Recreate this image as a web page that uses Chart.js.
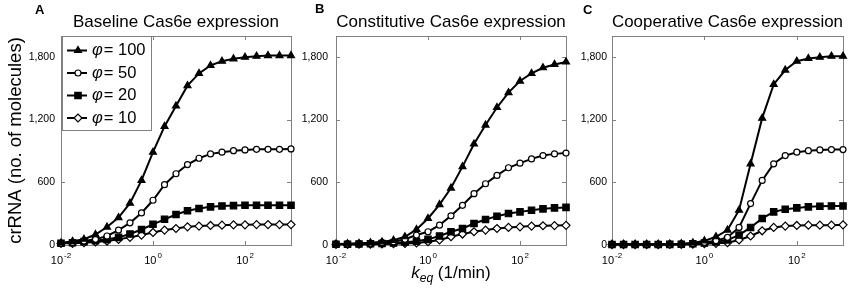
<!DOCTYPE html>
<html>
<head>
<meta charset="utf-8">
<script src="https://cdn.jsdelivr.net/npm/chart.js@4.4.1/dist/chart.umd.min.js"></script>
<style>
  body { margin: 0; background: #fff; width: 851px; height: 299px; position: relative; overflow: hidden; font-family: "Liberation Sans", Arial, sans-serif; }
  canvas { position: absolute; top: 0; }
  .letter { position: absolute; font-weight: bold; font-size: 13px; line-height: 14px; }
  #xlabel { position: absolute; left: 336px; width: 230px; top: 263px; text-align: center; font-size: 17px; line-height: 20px; }
  #xlabel sub { font-size: 12px; line-height: 0; vertical-align: -4px; font-style: italic; }
</style>
</head>
<body>
<canvas id="chartA" width="300" height="299" style="left:0px"></canvas>
<canvas id="chartB" width="290" height="299" style="left:283px"></canvas>
<canvas id="chartC" width="289" height="299" style="left:562px"></canvas>
<div class="letter" style="left:35px;top:3px">A</div>
<div class="letter" style="left:315px;top:2px">B</div>
<div class="letter" style="left:583px;top:3px">C</div>
<div id="xlabel"><i>k</i><sub>eq</sub> (1/min)</div>

<script>
// x values: k_eq (1/min), quarter-decade steps
const keq = [0.01, 0.0178, 0.0316, 0.0562, 0.1, 0.178, 0.316, 0.562, 1, 1.78, 3.16, 5.62,
             10, 17.8, 31.6, 56.2, 100, 178, 316, 562, 1000];

const phiLabels = ['100', '50', '20', '10'];
const titles = ['Baseline Cas6e expression', 'Constitutive Cas6e expression', 'Cooperative Cas6e expression'];

const xTicks = [0.01, 1, 100];
const xTickBase = '10';
const xTickExp = ['-2', '0', '2'];
const yTicks = [0, 600, 1200, 1800];
const yTickLabels = ['0', '600', '1,200', '1,800'];

// A: baseline
const baseline100 = [20, 35, 55, 100, 172, 262, 400, 618, 888, 1135, 1330, 1525, 1642, 1718, 1759, 1782, 1797, 1807, 1813, 1813, 1813];
const baseline50  = [16, 25, 38, 54, 86, 143, 212, 307, 428, 577, 682, 770, 830, 872, 888, 903, 910, 916, 916, 916, 919];
const baseline20  = [16, 22, 32, 41, 54, 73, 105, 148, 198, 246, 292, 327, 349, 365, 374, 377, 380, 380, 380, 380, 380];
const baseline10  = [16, 16, 22, 29, 38, 54, 73, 95, 120, 143, 158, 174, 181, 187, 190, 193, 193, 195, 195, 195, 195];

// B: constitutive
const constit100 = [10, 12, 16, 22, 30, 45, 79, 149, 254, 387, 545, 750, 967, 1148, 1316, 1458, 1569, 1642, 1696, 1728, 1752];
const constit50  = [10, 10, 12, 16, 22, 30, 55, 95, 127, 190, 279, 380, 491, 586, 666, 739, 783, 824, 856, 872, 880];
const constit20  = [8, 8, 10, 12, 15, 20, 26, 35, 54, 86, 127, 158, 206, 244, 276, 301, 317, 333, 346, 355, 360];
const constit10  = [6, 6, 7, 8, 10, 12, 15, 20, 32, 48, 79, 105, 127, 143, 158, 168, 174, 181, 184, 186, 188];

// C: cooperative
const coop100 = [8, 8, 8, 8, 8, 10, 12, 20, 40, 79, 143, 333, 777, 1214, 1537, 1674, 1759, 1785, 1797, 1807, 1807];
const coop50  = [6, 6, 6, 6, 6, 8, 10, 15, 25, 41, 73, 168, 396, 618, 777, 856, 888, 903, 910, 913, 913];
const coop20  = [5, 5, 5, 5, 5, 6, 8, 12, 20, 29, 48, 95, 168, 254, 317, 342, 355, 365, 371, 374, 374];
const coop10  = [4, 4, 4, 4, 4, 5, 6, 8, 12, 16, 22, 48, 86, 136, 168, 181, 187, 190, 190, 190, 193];

const FONT = '"Liberation Sans", Arial, sans-serif';
const markerStyles = ['triangle', 'circle', 'rect', 'rectRot'];
const markerRadius = [4, 3, 4.5, 4];
const markerFill = ['#000', '#fff', '#000', '#fff'];

function makeDatasets(series) {
    return series.map((vals, i) => ({
        label: phiLabels[i],
        data: keq.map((k, j) => ({ x: k, y: vals[j] })),
        borderColor: '#000',
        borderWidth: 2,
        pointStyle: markerStyles[i],
        pointRadius: markerRadius[i],
        pointBackgroundColor: markerFill[i],
        pointBorderColor: '#000',
        pointBorderWidth: 1.2,
        tension: 0,
        fill: false,
        clip: false
    }));
}

// axes box with inward tick marks (matlab style) + log tick labels with superscript
const framePlugin = {
    id: 'frame',
    beforeDatasetsDraw(chart) {
        const { ctx, chartArea: a, scales } = chart;
        ctx.save();
        ctx.strokeStyle = '#808080';
        ctx.lineWidth = 1;
        ctx.strokeRect(a.left + 0.5, a.top + 0.5, a.right - a.left, a.bottom - a.top);
        ctx.beginPath();
        xTicks.forEach(v => {
            const px = Math.round(scales.x.getPixelForValue(v)) + 0.5;
            ctx.moveTo(px, a.top); ctx.lineTo(px, a.top + 4);
            ctx.moveTo(px, a.bottom); ctx.lineTo(px, a.bottom - 4);
        });
        yTicks.forEach(v => {
            const py = Math.round(scales.y.getPixelForValue(v)) + 0.5;
            ctx.moveTo(a.left, py); ctx.lineTo(a.left + 4, py);
            ctx.moveTo(a.right, py); ctx.lineTo(a.right - 4, py);
        });
        ctx.stroke();

        ctx.fillStyle = '#000';
        ctx.textBaseline = 'alphabetic';
        ctx.textAlign = 'left';
        xTicks.forEach((v, i) => {
            const px = scales.x.getPixelForValue(v);
            ctx.font = '11px ' + FONT;
            const bw = ctx.measureText(xTickBase).width;
            ctx.font = '8px ' + FONT;
            const ew = ctx.measureText(xTickExp[i]).width;
            const x0 = px - (bw + ew + 1) / 2;
            ctx.font = '11px ' + FONT;
            ctx.fillText(xTickBase, x0, a.bottom + 19);
            ctx.font = '8px ' + FONT;
            ctx.fillText(xTickExp[i], x0 + bw + 1, a.bottom + 13);
        });
        ctx.restore();
    }
};

// legend box inside panel A
const legendPlugin = {
    id: 'phiLegend',
    afterDatasetsDraw(chart) {
        const { ctx, chartArea: a } = chart;
        const x0 = a.left + 1, y0 = a.top, w = 89, h = 94;
        ctx.save();
        ctx.fillStyle = '#fff';
        ctx.fillRect(x0, y0, w, h);
        ctx.strokeStyle = '#808080';
        ctx.lineWidth = 1;
        ctx.strokeRect(x0 + 0.5, y0 + 0.5, w, h);
        chart.data.datasets.forEach((ds, i) => {
            const y = y0 + 14.5 + i * 22.5;
            ctx.strokeStyle = '#000';
            ctx.lineWidth = 2;
            ctx.beginPath();
            ctx.moveTo(x0 + 5, y); ctx.lineTo(x0 + 25, y);
            ctx.stroke();
            ctx.fillStyle = ds.pointBackgroundColor;
            ctx.lineWidth = ds.pointBorderWidth;
            Chart.helpers.drawPoint(ctx, { pointStyle: ds.pointStyle, radius: ds.pointRadius, rotation: 0, borderWidth: ds.pointBorderWidth }, x0 + 16, y);
            ctx.fillStyle = '#000';
            ctx.textBaseline = 'middle';
            ctx.textAlign = 'left';
            ctx.font = 'italic 16.5px ' + FONT;
            ctx.fillText('\u03C6', x0 + 30, y);
            const pw = ctx.measureText('\u03C6').width;
            ctx.font = '16.5px ' + FONT;
            ctx.fillText('= ' + ds.label, x0 + 30 + pw + 1, y);
        });
        ctx.restore();
    }
};

function makeChart(id, series, title, yWidth, padRight, yPad, showYTitle, plugins) {
    return new Chart(document.getElementById(id), {
        type: 'line',
        data: { datasets: makeDatasets(series) },
        plugins: plugins,
        options: {
            responsive: false,
            animation: false,
            events: [],
            layout: { padding: { top: 0, right: padRight, bottom: 0, left: 0 } },
            plugins: {
                legend: { display: false },
                tooltip: { enabled: false },
                title: {
                    display: true,
                    text: title,
                    fullSize: false,
                    color: '#000',
                    font: { family: FONT, size: 17, weight: 'normal', lineHeight: 1.2 },
                    padding: { top: 12, bottom: 3.6 }
                }
            },
            scales: {
                x: {
                    type: 'logarithmic',
                    min: 0.01,
                    max: 1000,
                    grid: { display: false, drawTicks: false, tickLength: 0 },
                    border: { display: false },
                    afterBuildTicks: s => { s.ticks = xTicks.map(v => ({ value: v })); },
                    afterFit: s => { s.height = 54; },
                    ticks: { display: false }
                },
                y: {
                    min: 0,
                    max: 2000,
                    grid: { display: false, drawTicks: false, tickLength: 0 },
                    border: { display: false },
                    afterBuildTicks: s => { s.ticks = yTicks.map(v => ({ value: v })); },
                    afterFit: s => { s.width = yWidth; },
                    ticks: {
                        padding: yPad,
                        color: '#000',
                        font: { family: FONT, size: 10.5 },
                        callback: (v, i) => yTickLabels[i]
                    },
                    title: {
                        display: showYTitle,
                        text: 'crRNA (no. of molecules)',
                        color: '#000',
                        font: { family: FONT, size: 18.5 },
                        padding: { top: 5, bottom: 0 }
                    }
                }
            }
        }
    });
}

makeChart('chartA', [baseline100, baseline50, baseline20, baseline10], titles[0], 61, 9, 6, true, [framePlugin, legendPlugin]);
makeChart('chartB', [constit100, constit50, constit20, constit10], titles[1], 53, 7, 8, false, [framePlugin]);
makeChart('chartC', [coop100, coop50, coop20, coop10], titles[2], 50, 8, 5, false, [framePlugin]);
</script>
</body>
</html>
